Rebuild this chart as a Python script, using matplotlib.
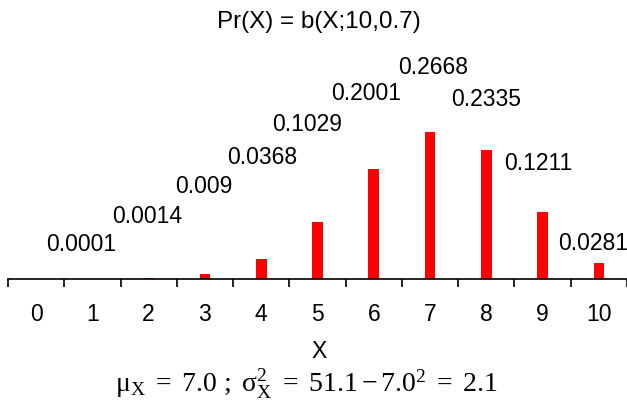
import matplotlib
matplotlib.use('Agg')
import matplotlib.pyplot as plt

# data
x_vals = [0, 1, 2, 3, 4, 5, 6, 7, 8, 9, 10]
probs = [0.0000, 0.0001, 0.0014, 0.0090, 0.0368, 0.1029, 0.2001, 0.2668, 0.2335, 0.1211, 0.0282]
label_text = ['0.0001', '0.0014', '0.009', '0.0368', '0.1029', '0.2001',
              '0.2668', '0.2335', '0.1211', '0.0281']
# where the value labels sit (as in the original, not on the bars)
label_x = [0.80, 1.98, 2.98, 4.02, 4.82, 5.86, 7.06, 7.99, 8.92, 9.89]
label_y = [0.063, 0.114, 0.167, 0.221, 0.280, 0.337, 0.383, 0.326, 0.210, 0.065]

plt.rcParams['font.family'] = ['Liberation Sans', 'DejaVu Sans']
plt.rcParams['mathtext.fontset'] = 'custom'
plt.rcParams['mathtext.rm'] = 'Liberation Serif'
plt.rcParams['mathtext.it'] = 'Liberation Serif:italic'

fig = plt.figure(figsize=(6.27, 4.05), dpi=100)
W, H = 627, 405
# axes: left edge at x=-0.5 (8px), baseline at 279px
ax = fig.add_axes([8 / W, (H - 279) / H, (627 - 8) / W, (279 - 40) / H])
ax.bar(x_vals, probs, width=0.19, color='#ff0000')
ax.set_xlim(-0.5, 10.47)
ax.set_ylim(0, (279 - 40) / 551)

for lx, ly, t in zip(label_x, label_y, label_text):
    ax.text(lx, ly, t, ha='center', va='center', fontsize=16.5)

for s in ['top', 'right', 'left']:
    ax.spines[s].set_visible(False)
ax.spines['bottom'].set_linewidth(1.2)
ax.set_yticks([])
ax.set_xticks([i - 0.5 for i in range(12)])
ax.set_xticklabels([])
ax.tick_params(axis='x', length=6, width=1.2, direction='out')
for i in x_vals:
    ax.text(i, -0.065, str(i), ha='center', va='center', fontsize=16.5, clip_on=False)

fig.text(319 / W, 1 - 22 / H, 'Pr(X) = b(X;10,0.7)', ha='center', va='center', fontsize=17.5)
fig.text(319 / W, 1 - 352 / H, 'X', ha='center', va='center', fontsize=16.5)
fig.text(307 / W, 1 - 384 / H,
         r'$\mathrm{\mu_X\ =\ 7.0\ ;\ \sigma_X^2\ =\ 51.1 - 7.0^2\ =\ 2.1}$',
         ha='center', va='center', fontsize=20)

plt.savefig('out.png', dpi=100)
